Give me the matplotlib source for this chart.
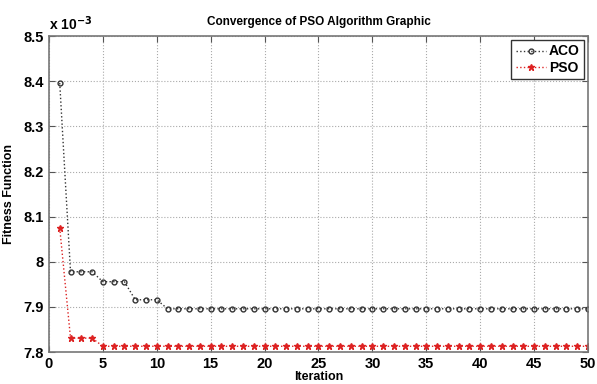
import numpy as np
import matplotlib.pyplot as plt

plt.rcParams['font.family'] = ['Liberation Sans Narrow', 'Liberation Sans', 'DejaVu Sans']
plt.rcParams['font.weight'] = 'bold'

iteration = np.arange(1, 51)
# values in units of 1e-3
aco = [8.396] + [7.978] * 3 + [7.956] * 3 + [7.916] * 3 + [7.896] * 40
pso = [8.075] + [7.831] * 3 + [7.813] * 46

fig = plt.figure()
fig.set_size_inches(5.97, 3.84, forward=True)
ax = fig.add_axes([0.082, 0.083, 0.903, 0.823])

ax.plot(iteration, aco, ':', color='#333333', lw=1.0, marker='o', ms=3.5,
        mfc='none', mec='#333333', mew=1.0, label='ACO')
ax.plot(iteration, pso, ':', color='#dd2222', lw=1.0, marker='*', ms=5,
        mfc='#dd2222', mec='#dd2222', label='PSO')

ax.set_xlim(0, 50)
ax.set_ylim(7.8, 8.5)
ax.set_xticks(np.arange(0, 51, 5))
ax.set_yticks([7.8, 7.9, 8.0, 8.1, 8.2, 8.3, 8.4, 8.5])
ax.set_yticklabels(['7.8', '7.9', '8', '8.1', '8.2', '8.3', '8.4', '8.5'])
ax.grid(True, linestyle=':', color='#aaaaaa', lw=0.8)
ax.tick_params(direction='in', top=True, right=True, labelsize=10.5, length=4,
               color='#555555')
for s in ax.spines.values():
    s.set_color('#777777')
    s.set_linewidth(1.2)

ax.set_title('Convergence of PSO Algorithm Graphic', fontsize=8.5, weight='bold', pad=8)
ax.set_xlabel('Iteration', fontsize=9, weight='bold', labelpad=0)
ax.set_ylabel('Fitness Function', fontsize=9, weight='bold', labelpad=6)
ax.text(0.0, 1.01, r'x 10$^{-3}$', transform=ax.transAxes, fontsize=10,
        weight='bold', ha='left', va='bottom')

leg = ax.legend(loc='upper right', fontsize=10, handlelength=2.2,
                borderaxespad=0.3, fancybox=False, framealpha=1,
                handletextpad=0.2, borderpad=0.3, labelspacing=0.2)
leg.get_frame().set_edgecolor('#333333')

fig.savefig('out.png', dpi=100)
